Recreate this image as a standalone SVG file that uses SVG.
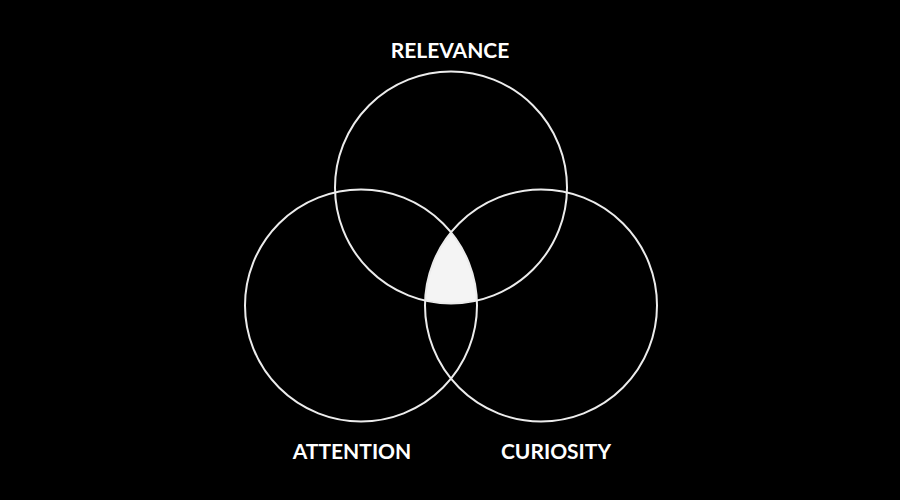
<svg xmlns="http://www.w3.org/2000/svg" width="900" height="500" viewBox="0 0 900 500">
  <style>
    .ring { fill: none; stroke: #ececec; stroke-width: 2; }
    .label { font-family: Lato, "Open Sans", "Liberation Sans", sans-serif; font-weight: 700; font-size: 21px; fill: #ffffff; text-anchor: middle; }
  </style>
  <rect x="0" y="0" width="900" height="500" fill="#000000"/>
  <g id="overlap">
    <path d="M 451 232.3 A 116 116 0 0 0 425.1 300.6 A 116 116 0 0 0 476.9 300.6 A 116 116 0 0 0 451 232.3 Z" fill="#f4f4f4"/>
  </g>
  <g id="relevance">
    <circle class="ring" cx="451" cy="187.5" r="116"/>
    <text class="label" x="450" y="58">RELEVANCE</text>
  </g>
  <g id="attention">
    <circle class="ring" cx="361" cy="305.5" r="116"/>
    <text class="label" x="352" y="459">ATTENTION</text>
  </g>
  <g id="curiosity">
    <circle class="ring" cx="541" cy="305.5" r="116"/>
    <text class="label" x="556" y="459">CURIOSITY</text>
  </g>
</svg>
